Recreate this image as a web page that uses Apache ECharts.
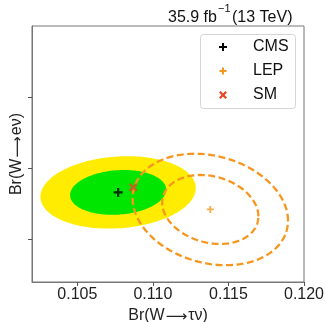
<!DOCTYPE html>
<html>
<head>
<meta charset="utf-8">
<script src="https://cdn.jsdelivr.net/npm/echarts@6/dist/echarts.min.js"></script>
<style>
html,body{margin:0;padding:0;background:#fff;}
#chart{width:325px;height:322px;}
</style>
</head>
<body>
<div id="chart"></div>
<script>
// ---- data ----
const xTicks = [0.105, 0.110, 0.115, 0.120];
const yTicks = [0.105, 0.110, 0.115];
const cmsCenter = [0.1077, 0.1083];   // Br(tau nu), Br(e nu)
const cmsSigma = [0.0021, 0.00104];
const cmsRho = 0.12;
const lepCenter = [0.1138, 0.1071];
const lepSigma = [0.0021, 0.0016];
const lepRho = -0.2;
const smPoint = [0.1087, 0.10865];
const contourScale = [1.515, 2.448]; // 68% and 95% CL (2 dof)
const legendNames = ['CMS', 'LEP', 'SM'];

const FONT = 'Liberation Sans, Arial, sans-serif';
const ORANGE = '#f7961f';
const RED = '#ee4422';

function ellipseItem(center, sigma, rho, k) {
  return [center[0], center[1], sigma[0], sigma[1], rho, k];
}
function makeRender(style) {
  return function (params, api) {
    const cx = api.value(0), cy = api.value(1), sx = api.value(2), sy = api.value(3), rho = api.value(4), k = api.value(5);
    const pts = [];
    const n = 160;
    const r2 = Math.sqrt(1 - rho * rho);
    for (let i = 0; i <= n; i++) {
      const t = 2 * Math.PI * i / n;
      const u = Math.cos(t), v = Math.sin(t);
      pts.push(api.coord([cx + k * sx * u, cy + k * sy * (rho * u + r2 * v)]));
    }
    return { type: 'polygon', shape: { points: pts }, style: style };
  };
}

const plusPath = 'path://M3,0h2v3h3v2h-3v3h-2v-3h-3v-2h3z';
function plusShape(h, w) {
  return [[-w, -h], [w, -h], [w, -w], [h, -w], [h, w], [w, w], [w, h], [-w, h], [-w, w], [-h, w], [-h, -w], [-w, -w]];
}
const nameRich = {
  t: { fontSize: 16, color: '#222', fontFamily: FONT },
  ar: { fontSize: 15, color: '#222', fontFamily: 'DejaVu Sans', padding: [3, 1, 0, 1] }
};

const chart = echarts.init(document.getElementById('chart'), null, { renderer: 'canvas' });
chart.setOption({
  animation: false,
  textStyle: { fontFamily: FONT },
  grid: { left: 32, top: 26, right: 21, bottom: 40, containLabel: false, outerBoundsMode: 'none', show: true, borderColor: '#777', borderWidth: 1, backgroundColor: 'transparent' },
  xAxis: {
    type: 'value', min: 0.102, max: 0.120,
    axisLine: { show: true, lineStyle: { color: '#777', width: 1 } },
    axisTick: { show: true, customValues: xTicks, length: 4, lineStyle: { color: '#555' } },
    axisLabel: { customValues: xTicks, formatter: v => v.toFixed(3), fontSize: 16, color: '#222', margin: 5, fontFamily: FONT, showMaxLabel: true, showMinLabel: true },
    splitLine: { show: false },
    name: '{t|Br(W}{ar|\u27f6}{t|\u03c4\u03bd)}', nameLocation: 'middle', nameGap: 22,
    nameTextStyle: { fontSize: 16, color: '#222', fontFamily: FONT, rich: nameRich }
  },
  yAxis: {
    type: 'value', min: 0.102, max: 0.120,
    axisLine: { show: true, lineStyle: { color: '#777', width: 1 } },
    axisTick: { show: true, customValues: yTicks, length: 4, lineStyle: { color: '#555' } },
    axisLabel: { show: false },
    splitLine: { show: false },
    name: '{t|Br(W}{ar|\u27f6}{t|e\u03bd)}', nameLocation: 'middle', nameGap: 6,
    nameTextStyle: { fontSize: 16, color: '#222', fontFamily: FONT, rich: nameRich }
  },
  series: [
    { type: 'custom', z: 1, clip: true, encode: { x: 0, y: 1 },
      data: [ellipseItem(cmsCenter, cmsSigma, cmsRho, contourScale[1])],
      renderItem: makeRender({ fill: '#ffec00', stroke: null }) },
    { type: 'custom', z: 2, clip: true, encode: { x: 0, y: 1 },
      data: [ellipseItem(cmsCenter, cmsSigma, cmsRho, contourScale[0])],
      renderItem: makeRender({ fill: '#00e600', stroke: null }) },
    { type: 'custom', z: 3, clip: true, encode: { x: 0, y: 1 },
      data: [ellipseItem(lepCenter, lepSigma, lepRho, contourScale[0]), ellipseItem(lepCenter, lepSigma, lepRho, contourScale[1])],
      renderItem: makeRender({ fill: 'none', stroke: ORANGE, lineWidth: 2.3, lineDash: [7, 3.5] }) },
    { name: legendNames[0], type: 'scatter', z: 5, symbol: plusPath, symbolSize: 9,
      itemStyle: { color: '#000' }, data: [cmsCenter] },
    { name: legendNames[1], type: 'scatter', z: 5, symbol: plusPath, symbolSize: 7,
      itemStyle: { color: ORANGE }, data: [lepCenter] },
    { name: legendNames[2], type: 'scatter', z: 6, symbol: plusPath, symbolSize: 10, symbolRotate: 45,
      itemStyle: { color: RED }, data: [smPoint] }
  ],
  graphic: [
    { type: 'text', x: 168, y: 17.5, style: { text: '35.9 fb', font: '16px ' + FONT, fill: '#111', verticalAlign: 'middle', align: 'left' } },
    { type: 'text', x: 218, y: 9, style: { text: '\u22121', font: '11px ' + FONT, fill: '#111', verticalAlign: 'middle', align: 'left' } },
    { type: 'text', x: 232, y: 17.5, style: { text: '(13 TeV)', font: '16px ' + FONT, fill: '#111', verticalAlign: 'middle', align: 'left' } },
    { type: 'rect', z: 50, shape: { x: 200.5, y: 34.5, width: 95, height: 74, r: 3 }, style: { fill: 'rgba(255,255,255,0.9)', stroke: '#d4d4d4', lineWidth: 1 } },
    { type: 'polygon', z: 51, x: 223, y: 47, shape: { points: plusShape(4, 1) }, style: { fill: '#000' } },
    { type: 'polygon', z: 51, x: 223, y: 71, shape: { points: plusShape(3.5, 1) }, style: { fill: ORANGE } },
    { type: 'polygon', z: 51, x: 223, y: 95, rotation: Math.PI / 4, shape: { points: plusShape(4.5, 1.1) }, style: { fill: RED } },
    { type: 'text', z: 51, x: 253, y: 47, style: { text: legendNames[0], font: '16px ' + FONT, fill: '#111', verticalAlign: 'middle' } },
    { type: 'text', z: 51, x: 253, y: 71, style: { text: legendNames[1], font: '16px ' + FONT, fill: '#111', verticalAlign: 'middle' } },
    { type: 'text', z: 51, x: 253, y: 95, style: { text: legendNames[2], font: '16px ' + FONT, fill: '#111', verticalAlign: 'middle' } }
  ]
});
</script>
</body>
</html>
